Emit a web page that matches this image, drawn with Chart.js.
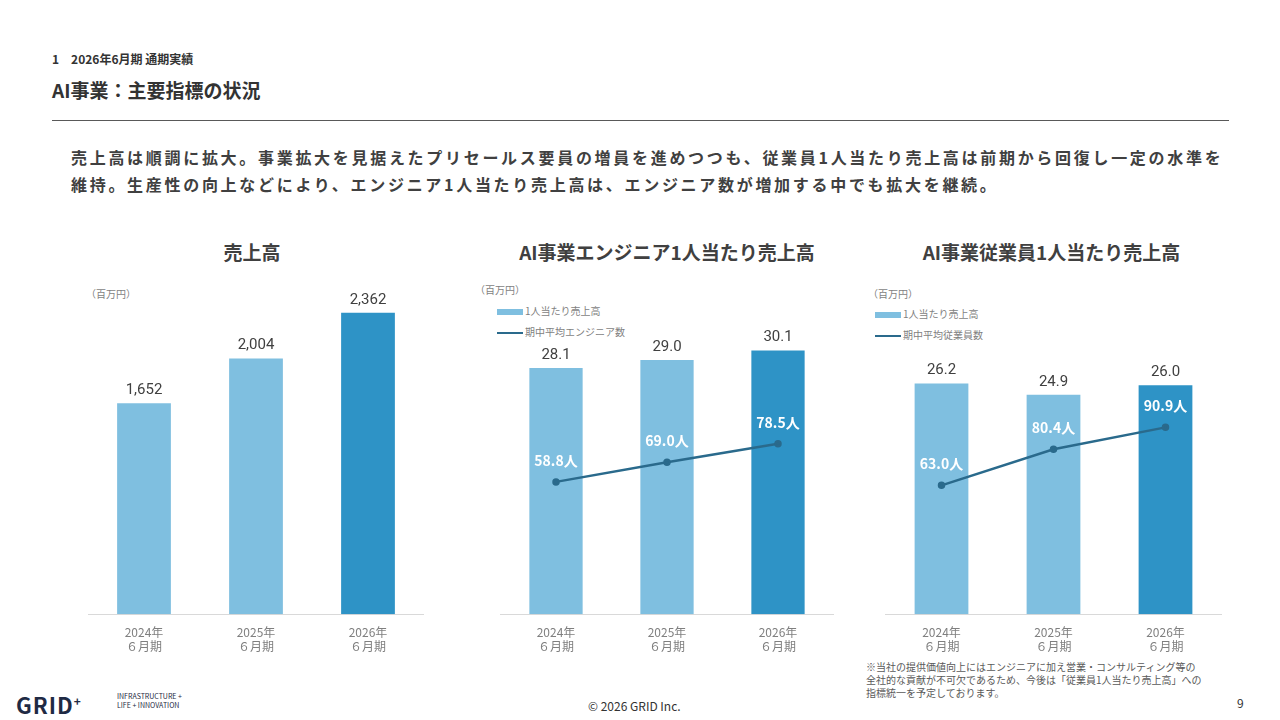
<!DOCTYPE html>
<html><head><meta charset="utf-8">
<script src="https://cdn.jsdelivr.net/npm/chart.js@4"></script>
<style>
body{margin:0;width:1280px;height:720px;position:relative;background:#fff;font-family:"Noto Sans CJK JP","Noto Sans",sans-serif;color:#404040;overflow:hidden}
.a{position:absolute;white-space:nowrap}
canvas{position:absolute}
.leg{font-size:10px;color:#7f7f7f}
</style></head><body>
<div class="a" style="left:52px;top:50px;font-size:12px;font-weight:bold;color:#333">1　2026年6月期 通期実績</div>
<div class="a" style="left:52px;top:76px;font-size:19px;font-weight:bold;color:#333">AI事業：主要指標の状況</div>
<div class="a" style="left:52px;top:120px;width:1177px;border-top:1px solid #595959"></div>
<div class="a" style="left:71px;top:144px;font-size:16px;font-weight:bold;line-height:27px;letter-spacing:2.7px;color:#404040">売上高は順調に拡大。事業拡大を見据えたプリセールス要員の増員を進めつつも、従業員1人当たり売上高は前期から回復し一定の水準を<br>維持。生産性の向上などにより、エンジニア1人当たり売上高は、エンジニア数が増加する中でも拡大を継続。</div>
<div class="a" style="left:84px;width:336px;top:238px;text-align:center;font-size:19px;font-weight:bold">売上高</div>
<div class="a" style="left:480px;width:374px;top:238px;text-align:center;font-size:19px;font-weight:bold">AI事業エンジニア1人当たり売上高</div>
<div class="a" style="left:865px;width:373px;top:238px;text-align:center;font-size:19px;font-weight:bold">AI事業従業員1人当たり売上高</div>
<div class="a leg" style="left:86px;top:286px">（百万円）</div>
<div class="a leg" style="left:475px;top:282px">（百万円）</div>
<div class="a leg" style="left:868px;top:286px">（百万円）</div>
<div class="a leg" style="left:497px;top:303px"><span style="display:inline-block;width:26px;height:6px;background:#7fbfe0;vertical-align:middle;margin-right:2px"></span>1人当たり売上高</div>
<div class="a leg" style="left:497px;top:324px"><span style="display:inline-block;width:26px;height:2px;background:#2a6a8c;vertical-align:middle;margin-right:2px"></span>期中平均エンジニア数</div>
<div class="a leg" style="left:875px;top:306px"><span style="display:inline-block;width:26px;height:6px;background:#7fbfe0;vertical-align:middle;margin-right:2px"></span>1人当たり売上高</div>
<div class="a leg" style="left:875px;top:327px"><span style="display:inline-block;width:26px;height:2px;background:#2a6a8c;vertical-align:middle;margin-right:2px"></span>期中平均従業員数</div>
<canvas id="c1" style="left:88px;top:250px;width:336px;height:407px"></canvas>
<canvas id="c2" style="left:494px;top:250px;width:346px;height:407px"></canvas>
<canvas id="c3" style="left:879px;top:250px;width:349px;height:407px"></canvas>
<div class="a" style="left:866px;top:660px;font-size:10px;line-height:13px;color:#595959">※当社の提供価値向上にはエンジニアに加え営業・コンサルティング等の<br>全社的な貢献が不可欠であるため、今後は「従業員1人当たり売上高」への<br>指標統一を予定しております。</div>
<div class="a" style="left:16px;top:688px;font-size:22px;font-weight:bold;color:#1f2a44;letter-spacing:1px">GRID<sup style="font-size:12px">+</sup></div>
<div class="a" style="left:117px;top:692px;font-size:7px;line-height:9px;color:#1f2a44">INFRASTRUCTURE +<br>LIFE + INNOVATION</div>
<div class="a" style="left:588px;top:697px;font-size:12px;color:#333">© 2026 GRID Inc.</div>
<div class="a" style="left:1237px;top:694px;font-size:12px;color:#333">9</div>
<script>
const categories = [["2024年","６月期"],["2025年","６月期"],["2026年","６月期"]];
const sales = [1652, 2004, 2362];
const engRev = [28.1, 29.0, 30.1];
const engCount = [58.8, 69.0, 78.5];
const empRev = [26.2, 24.9, 26.0];
const empCount = [63.0, 80.4, 90.9];
const barColors = ['#7fbfe0','#7fbfe0','#2e93c6'];

const labels = {
  id:'labels',
  afterDatasetsDraw(chart){
    const c = chart.ctx;
    chart.data.datasets.forEach((ds,i)=>{
      chart.getDatasetMeta(i).data.forEach((el,j)=>{
        c.save();
        c.textAlign='center';
        if(ds.type==='line'){
          c.font='bold 14px "Noto Sans CJK JP"';c.fillStyle='#fff';
          c.fillText(ds.data[j].toFixed(1)+'人', el.x, el.y-16);
        }else{
          c.font='15px "Roboto","Noto Sans"';c.fillStyle='#404040';
          c.fillText(ds.fmt(ds.data[j]), el.x, el.y-9);
        }
        c.restore();
      });
    });
  }
};

function make(id, bars, fmt, ymax, line, y2min, y2max){
  const datasets=[];
  if(line) datasets.push({type:'line',data:line,yAxisID:'y2',borderColor:'#2a6a8c',backgroundColor:'#2a6a8c',borderWidth:2.5,pointRadius:2.5,order:0});
  datasets.push({type:'bar',data:bars,fmt:fmt,backgroundColor:barColors,barPercentage:0.48,categoryPercentage:1,order:1});
  const scales={
    x:{grid:{display:false},border:{color:'#d9d9d9'},ticks:{color:'#7f7f7f',font:{size:12,family:'Noto Sans CJK JP'},maxRotation:0}},
    y:{display:false,min:0,max:ymax}
  };
  if(line) scales.y2={display:false,min:y2min,max:y2max};
  new Chart(document.getElementById(id),{
    data:{labels:categories,datasets},
    options:{responsive:false,animation:false,layout:{padding:{top:40}},
      plugins:{legend:{display:false},tooltip:{enabled:false}},scales},
    plugins:[labels]
  });
}
['c1','c2','c3'].forEach(id=>{const e=document.getElementById(id);e.width=parseInt(e.style.width);e.height=parseInt(e.style.height);});
make('c1', sales, v=>v.toLocaleString('en-US'), 2540);
make('c2', engRev, v=>v.toFixed(1), 37, engCount, -9.6, 158);
make('c3', empRev, v=>v.toFixed(1), 36.8, empCount, 1, 157);
</script>
</body></html>
